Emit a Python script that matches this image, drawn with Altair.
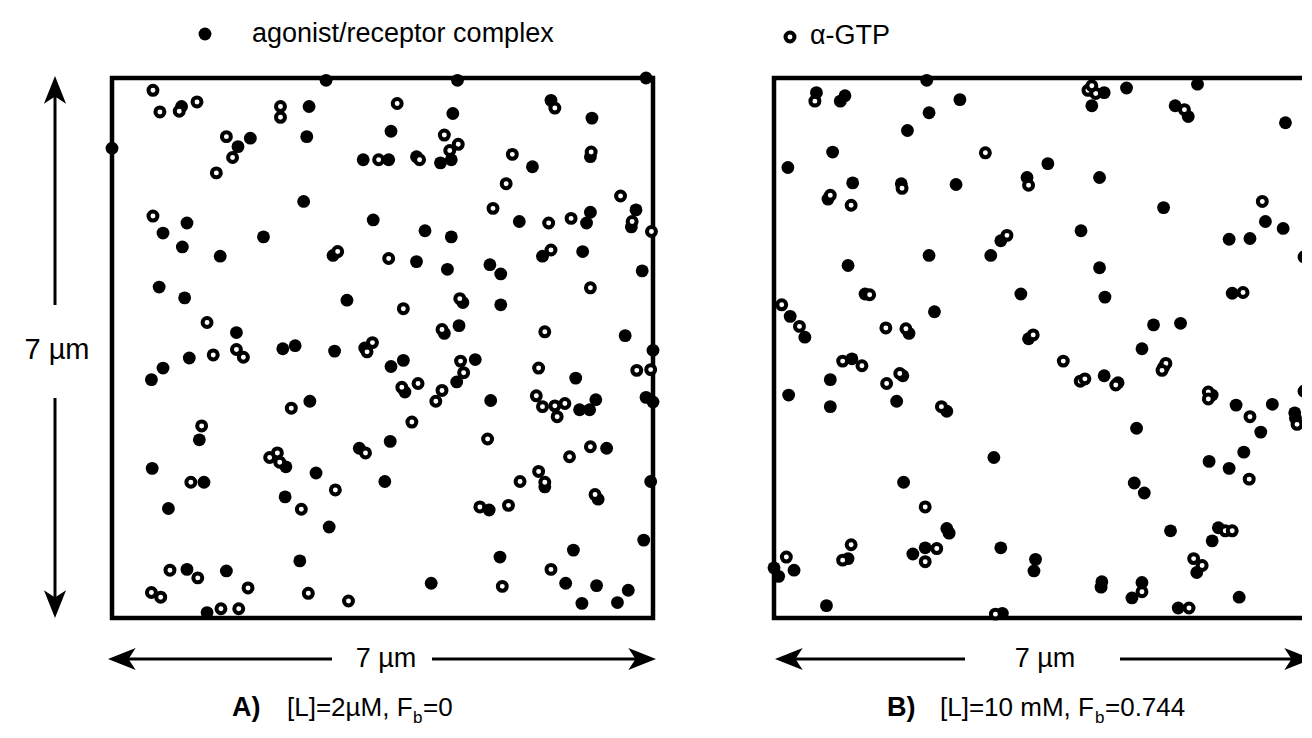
import altair as alt
import pandas as pd

# ---------------- Panel A: [L]=2 uM, Fb=0 (positions in um, 7 um field) ----------------
a_filled_x = [0.90, 2.55, 1.79, 1.63, 2.52, 3.25, 2.48, 0.97, 0.66, 0.91, 1.96, 1.40, 2.86, 3.38,
              0.61, 0.94, 3.04, 1.61, 2.77, 0.00, 0.51, 0.66, 1.00, 2.21, 2.37, 2.88, 3.27, 2.56,
              1.13, 0.52, 1.19, 2.25, 3.20, 2.64, 2.24, 0.73, 2.81, 2.43, 0.97, 1.48, 1.23,
              4.47, 6.91, 4.41, 3.61, 4.39, 4.25, 3.58, 3.94, 5.44, 5.68, 6.21, 6.19, 6.78, 6.72,
              5.27, 6.19, 6.14, 4.05, 4.39, 3.94, 4.34, 4.89, 5.03, 5.57, 6.09, 6.86, 4.54, 5.03,
              4.30, 4.49, 6.64, 3.61, 3.77, 4.46, 4.70, 3.79, 4.90, 3.60, 3.53, 6.00, 7.00, 6.91,
              7.00, 6.05, 6.18, 6.26, 6.40, 5.60, 6.29, 6.97, 4.88, 6.88, 5.02, 5.97, 4.13, 5.87,
              6.27, 6.68, 6.08, 6.54]
a_filled_y = [6.63, 6.63, 6.22, 6.11, 6.24, 5.94, 5.40, 5.12, 4.99, 4.81, 4.94, 4.69, 4.70, 5.16,
              4.29, 4.15, 4.12, 3.70, 6.97, 6.09, 3.09, 3.24, 3.37, 3.49, 3.53, 3.46, 3.50, 2.81,
              2.31, 1.94, 1.76, 1.96, 2.20, 1.88, 1.57, 1.42, 1.18, 0.74, 0.63, 0.61, 0.07,
              6.97, 7.00, 6.54, 6.31, 5.94, 5.90, 5.94, 5.98, 5.85, 6.71, 6.48, 5.98, 5.29, 5.07,
              5.14, 5.26, 5.12, 5.02, 4.94, 4.62, 4.52, 4.58, 4.46, 4.69, 4.75, 4.50, 4.09, 4.06,
              3.69, 3.79, 3.66, 3.26, 3.34, 3.06, 3.35, 2.93, 2.82, 2.29, 1.77, 3.11, 3.47, 2.86,
              2.80, 2.70, 2.70, 2.83, 2.20, 1.70, 1.54, 1.77, 1.40, 1.01, 0.79, 0.88, 0.45, 0.45,
              0.42, 0.36, 0.19, 0.20]
a_open_x = [0.53, 0.62, 0.87, 1.10, 2.18, 2.18, 1.48, 1.56, 1.35, 0.53, 2.92, 1.23, 1.31, 1.61,
            1.70, 3.37, 3.30, 2.32, 1.16, 1.02, 2.04, 2.14, 2.17, 3.28, 2.89, 2.45, 0.75, 1.11,
            1.76, 0.51, 0.63, 2.54, 3.06, 1.41, 1.64,
            3.69, 4.30, 4.48, 4.37, 3.45, 3.98, 5.18, 5.10, 5.73, 6.20, 6.58, 6.73, 6.98, 4.93,
            5.65, 5.94, 3.58, 5.68, 6.19, 3.77, 4.50, 4.27, 5.60, 4.51, 4.55, 3.75, 3.96, 4.27,
            4.19, 3.88, 4.86, 5.52, 6.79, 6.97, 5.49, 5.57, 5.73, 5.86, 5.76, 6.19, 5.92, 5.52,
            5.60, 5.28, 6.25, 4.76, 5.13, 5.68, 5.05]
a_open_y = [6.84, 6.56, 6.57, 6.69, 6.63, 6.49, 6.24, 5.97, 5.77, 5.21, 4.75, 3.83, 3.41, 3.48,
            3.38, 3.57, 3.45, 2.72, 2.49, 1.76, 2.08, 2.14, 2.02, 2.14, 1.66, 1.41, 0.62, 0.52,
            0.39, 0.33, 0.27, 0.32, 0.22, 0.12, 0.12,
            6.67, 6.26, 6.14, 6.06, 5.94, 5.94, 6.01, 5.63, 6.61, 6.04, 5.47, 5.14, 5.01, 5.31,
            5.12, 5.18, 4.66, 4.77, 4.28, 4.01, 4.14, 3.74, 3.71, 3.33, 3.18, 2.99, 3.04, 2.95,
            2.81, 2.54, 2.32, 3.24, 3.21, 3.22, 2.88, 2.74, 2.75, 2.78, 2.61, 2.22, 2.09, 1.90,
            1.76, 1.77, 1.60, 1.44, 1.46, 0.63, 0.41]

# ---------------- Panel B: [L]=10 mM, Fb=0.744 ----------------
b_filled_x = [1.98, 0.55, 0.92, 0.86, 2.41, 2.01, 1.73, 0.76, 0.18, 1.02, 1.65, 2.36, 3.28, 0.70,
              2.94, 2.01, 2.81, 0.96, 1.18, 3.20, 2.08, 0.21, 0.40, 1.75, 3.30, 1.01, 0.73, 0.19,
              0.73, 1.67, 1.59, 2.24, 2.85, 1.68, 2.24, 2.27, 0.96, 1.80, 1.96, 2.94, 0.26, 0.06,
              0.00, 0.68, 2.96, 3.39, 3.37,
              4.28, 4.12, 4.57, 5.49, 5.20, 5.37, 6.63, 6.97, 3.55, 4.22, 5.05, 6.37, 6.60, 5.90,
              6.17, 6.87, 3.98, 4.22, 4.29, 5.94, 4.92, 5.27, 4.77, 4.28, 4.46, 5.05, 5.68, 5.99,
              6.46, 6.87, 6.31, 6.75, 6.76, 4.70, 6.09, 5.64, 5.90, 4.67, 4.80, 5.14, 5.76, 5.68,
              5.48, 4.25, 4.24, 4.77, 4.64, 6.03, 5.24]
b_filled_y = [6.97, 6.81, 6.77, 6.70, 6.72, 6.55, 6.32, 6.04, 5.84, 5.64, 5.63, 5.62, 5.71, 5.43,
              4.89, 4.70, 4.70, 4.57, 4.20, 4.20, 3.97, 3.91, 3.64, 3.69, 3.62, 3.36, 3.09, 2.89,
              2.74, 3.14, 2.81, 2.68, 2.08, 1.76, 1.16, 1.10, 0.77, 0.83, 0.91, 0.91, 0.62, 0.54,
              0.65, 0.16, 0.06, 0.76, 0.61,
              6.81, 6.64, 6.87, 6.92, 6.64, 6.50, 6.42, 6.84, 5.89, 5.71, 5.32, 5.14, 5.05, 4.91,
              4.92, 4.68, 5.02, 4.54, 4.16, 4.21, 3.80, 3.82, 3.49, 3.14, 3.05, 3.25, 2.89, 2.76,
              2.77, 2.94, 2.41, 2.66, 2.59, 2.46, 2.15, 2.03, 1.94, 1.75, 1.62, 1.13, 1.17, 1.00,
              0.59, 0.47, 0.40, 0.46, 0.26, 0.27, 0.13]
b_open_x = [0.53, 2.74, 1.66, 3.30, 0.73, 1.00, 3.02, 1.24, 0.10, 0.33, 1.45, 1.71, 3.36, 0.89,
            1.14, 1.46, 1.63, 2.17, 1.96, 1.00, 0.89, 2.11, 1.96, 0.16, 2.87,
            4.07, 4.17, 4.12, 5.32, 6.33, 6.08, 3.75, 3.97, 4.03, 4.43, 5.08, 5.03, 5.63, 5.63,
            6.17, 6.78, 6.16, 5.85, 5.94, 5.44, 5.55, 4.77, 5.38]
b_open_y = [6.70, 6.03, 5.57, 5.61, 5.48, 5.35, 4.96, 4.19, 4.06, 3.78, 3.76, 3.75, 3.67, 3.33,
            3.27, 3.04, 3.17, 2.74, 1.44, 0.95, 0.75, 0.90, 0.73, 0.79, 0.05,
            6.84, 6.80, 6.90, 6.59, 5.40, 4.22, 3.33, 3.07, 3.10, 3.02, 3.30, 3.21, 2.93, 2.84,
            2.61, 2.51, 1.80, 1.13, 1.13, 0.77, 0.68, 0.34, 0.13]

FONT = "Liberation Sans"
FIELD = [0, 7]
DOT = 165
RING = 80
RING_W = 4

dfa_f = pd.DataFrame({"x": a_filled_x, "y": a_filled_y})
dfa_o = pd.DataFrame({"x": a_open_x, "y": a_open_y})
dfb_f = pd.DataFrame({"x": b_filled_x, "y": b_filled_y})
dfb_o = pd.DataFrame({"x": b_open_x, "y": b_open_y})
one = pd.DataFrame({"k": [0]})

y_scale = alt.Scale(domain=FIELD, range=[540, 0], nice=False, zero=False)


def panel(df_f, df_o, xrange):
    xs = alt.Scale(domain=FIELD, range=xrange, nice=False, zero=False)
    filled = alt.Chart(df_f).mark_circle(size=DOT, color="black", opacity=1).encode(
        x=alt.X("x:Q", scale=xs, axis=None),
        y=alt.Y("y:Q", scale=y_scale, axis=None),
    )
    opened = alt.Chart(df_o).mark_point(
        shape="circle", size=RING, filled=True, fill="white", stroke="black",
        strokeWidth=RING_W, opacity=1, fillOpacity=1, strokeOpacity=1,
    ).encode(
        x=alt.X("x:Q", scale=xs, axis=None),
        y=alt.Y("y:Q", scale=y_scale, axis=None),
    )
    frame = alt.Chart(one).mark_rect(filled=False, stroke="black", strokeWidth=4.5).encode(
        x=alt.value(xrange[0]), x2=alt.value(xrange[1]), y=alt.value(0), y2=alt.value(540)
    )
    return alt.layer(frame, filled, opened)


panelA = panel(dfa_f, dfa_o, [0, 541])
panelB = panel(dfb_f, dfb_o, [662, 1202])

HEAD = "M0,-1L0.7,0.75L0,0.3L-0.7,0.75Z"
HEAD_SIZE = 1000
H = 15.8  # half of sqrt(size)


def head(x, y, angle):
    return alt.Chart(one).mark_point(
        shape=HEAD, size=HEAD_SIZE, filled=True, color="black", opacity=1, angle=angle
    ).encode(x=alt.value(x), y=alt.value(y))


def hline(x1, x2, y):
    return alt.Chart(one).mark_rule(color="black", strokeWidth=3).encode(
        x=alt.value(x1), x2=alt.value(x2), y=alt.value(y)
    )


def vline(x, y1, y2):
    return alt.Chart(one).mark_rule(color="black", strokeWidth=3).encode(
        x=alt.value(x), y=alt.value(y1), y2=alt.value(y2)
    )


def text(s, x, y, size=26, weight="normal", align="left"):
    return alt.Chart(one).mark_text(
        text=s, font=FONT, fontSize=size, fontWeight=weight, align=align,
        baseline="middle", color="black",
    ).encode(x=alt.value(x), y=alt.value(y))


deco = [
    # legend
    alt.Chart(one).mark_circle(size=DOT, color="black", opacity=1).encode(
        x=alt.value(93), y=alt.value(-44)),
    text("agonist/receptor complex", 140, -44, size=27),
    alt.Chart(one).mark_point(shape="circle", size=RING, filled=True, fill="white",
                              stroke="black", strokeWidth=RING_W, opacity=1).encode(
        x=alt.value(678), y=alt.value(-41)),
    text("\u03b1-GTP", 698, -42, size=27),
    # vertical scale arrow
    head(-57, -2 + H, 0),
    vline(-57, 10, 227),
    text("7 \u00b5m", -55, 272, size=29, align="center"),
    vline(-57, 320, 528),
    head(-57, 540 - H, 180),
    # horizontal arrow panel A
    head(-4 + H, 581, 270),
    hline(6, 220, 581),
    text("7 \u00b5m", 274, 581, size=27, align="center"),
    hline(320, 534, 581),
    head(544 - H, 581, 90),
    # horizontal arrow panel B
    head(663 + H, 581, 270),
    hline(673, 853, 581),
    text("7 \u00b5m", 933, 581, size=27, align="center"),
    hline(1008, 1192, 581),
    head(1200 - H, 581, 90),
    # captions
    text("A)", 120, 630, size=27, weight="bold"),
    text("[L]=2\u00b5M, F", 175, 630),
    text("b", 301, 640, size=17),
    text("=0", 311, 630),
    text("B)", 775, 630, size=27, weight="bold"),
    text("[L]=10 mM, F", 828, 630),
    text("b", 983, 640, size=17),
    text("=0.744", 993, 630),
]

chart = alt.layer(panelA, panelB, *deco).resolve_scale(x="independent").properties(
    width=1190,
    height=540,
    padding={"left": 104, "top": 70, "right": 0, "bottom": 112},
    autosize=alt.AutoSizeParams(type="none"),
).configure_view(strokeWidth=0)

chart.save("out.html", embed_options={"renderer": "svg", "actions": False})
